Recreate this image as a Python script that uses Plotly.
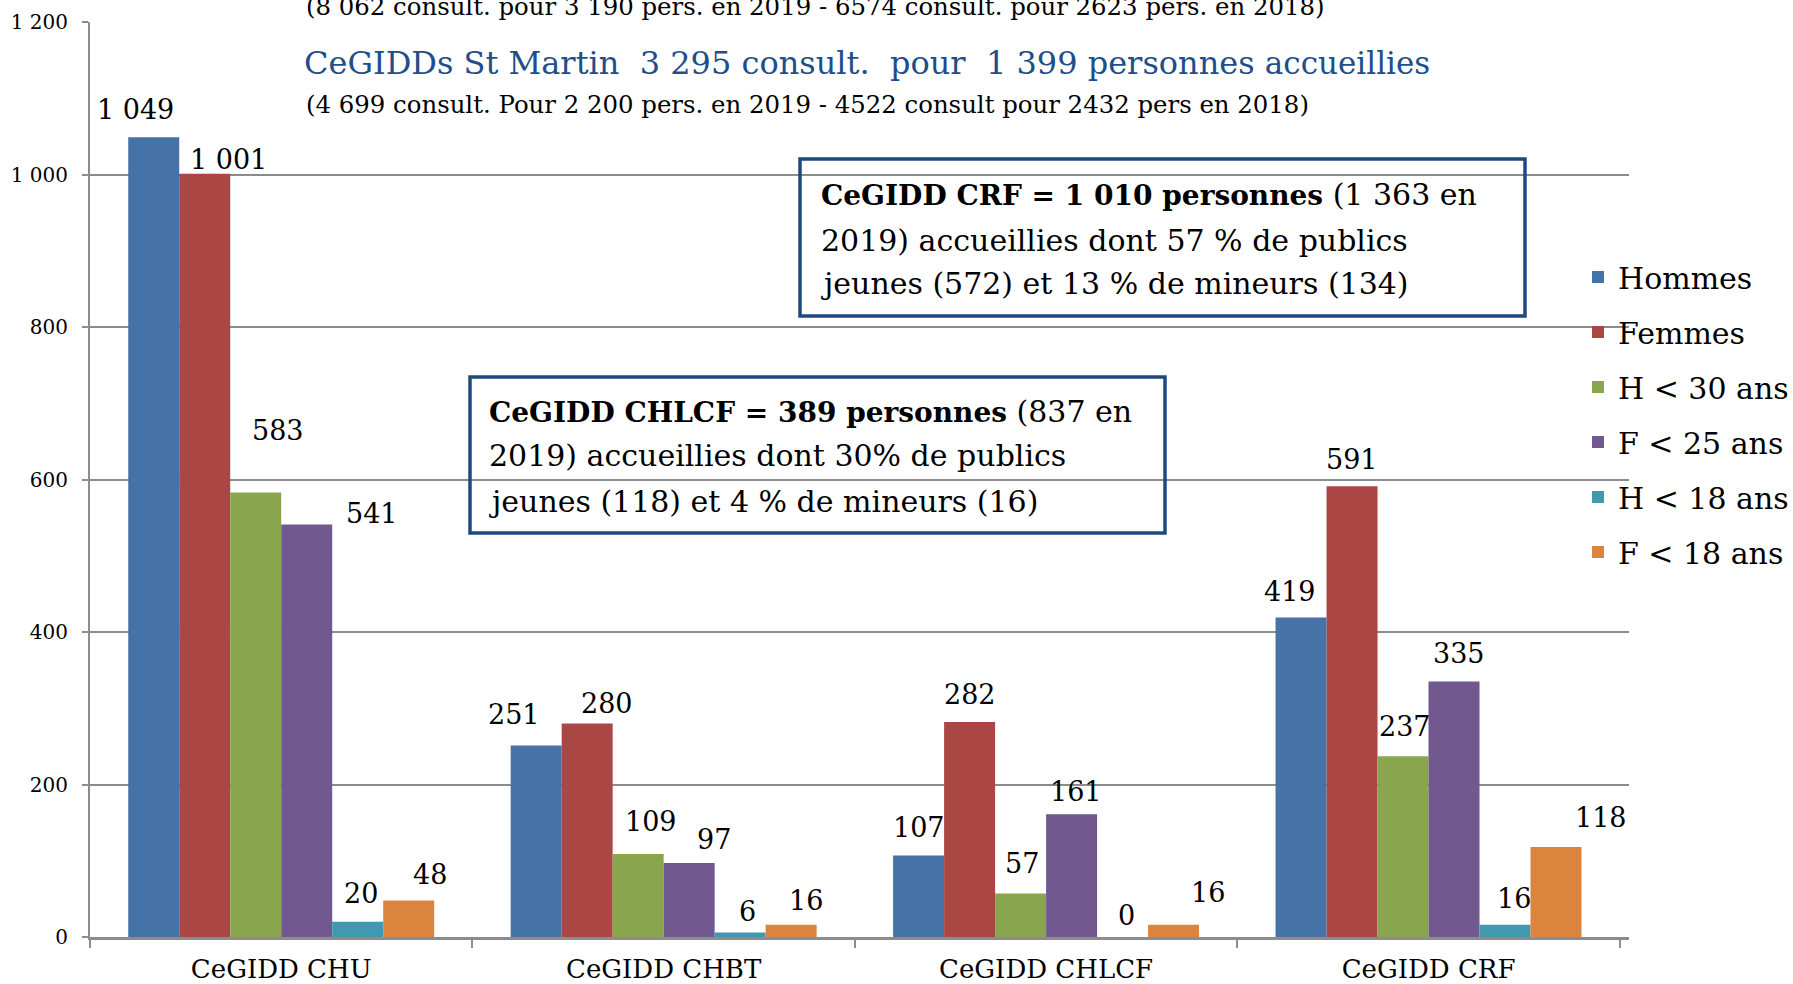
import plotly.graph_objects as go

# ---------------- data ----------------
categories = ["CeGIDD CHU", "CeGIDD CHBT", "CeGIDD CHLCF", "CeGIDD CRF"]
hommes = [1049, 251, 107, 419]
femmes = [1001, 280, 282, 591]
h_moins_30 = [583, 109, 57, 237]
f_moins_25 = [541, 97, 161, 335]
h_moins_18 = [20, 6, 0, 16]
f_moins_18 = [48, 16, 16, 118]
series_names = ["Hommes", "Femmes", "H < 30 ans", "F < 25 ans", "H < 18 ans", "F < 18 ans"]
series_values = [hommes, femmes, h_moins_30, f_moins_25, h_moins_18, f_moins_18]
y_ticks = [0, 200, 400, 600, 800, 1000, 1200]

title_line0 = "(8 062 consult. pour 3 190 pers. en 2019 - 6574 consult. pour 2623 pers. en 2018)"
title_main = "CeGIDDs St Martin\u00a0\u00a03 295 consult.\u00a0\u00a0pour\u00a0\u00a01 399 personnes"
title_main_small = "accueillies"
title_line2 = "(4 699 consult. Pour 2 200 pers. en 2019 - 4522 consult pour 2432 pers en 2018)"
box_crf_bold = "CeGIDD CRF = 1 010 personnes"
box_crf_lines = [" (1 363 en",
                 "2019) accueillies dont 57 % de publics",
                 "jeunes (572) et 13 % de mineurs (134)"]
box_chlcf_bold = "CeGIDD CHLCF = 389 personnes"
box_chlcf_lines = [" (837 en",
                   "2019) accueillies dont 30% de publics",
                   "jeunes (118) et 4 % de mineurs (16)"]

# ---------------- style ----------------
colors = ["#4572A7", "#AA4643", "#89A54E", "#71588F", "#4198AF", "#DB843D"]
FONT = "DejaVu Serif"
GRID = "#8C8C8C"
BLUE = "#1F4E8A"
W, H = 1793, 984
L, R, T, B = 90, 1793 - 1629, 22, 984 - 937
BARGAP = 0.2
# per-label pixel nudges (series x category), as in the original layout
label_dx = [[-18, -22, 0, -11],
            [24, 20, 0, 0],
            [22, 13, 1, 2],
            [65, 25, 4, 5],
            [3, 7, 4, 9],
            [21, 15, 34, 45]]
label_dy = [[28, 31, 28, 26],
            [14, 20, 27, 27],
            [62, 32, 30, 30],
            [11, 24, 23, 28],
            [28, 21, 22, 26],
            [26, 24, 32, 30]]

pw = W - L - R
ph = H - T - B


def px(x):
    return (x - L) / pw


def py(y):
    return (H - B - y) / ph


fig = go.Figure()
for k, (name, vals) in enumerate(zip(series_names, series_values)):
    fig.add_trace(go.Bar(
        name=name, x=categories, y=vals,
        marker=dict(color=colors[k], line=dict(width=0)),
        legendgroup=name,
    ))

annotations = []
n = len(series_names)
bw = (1 - BARGAP) / n
for k, vals in enumerate(series_values):
    for j, v in enumerate(vals):
        annotations.append(dict(
            x=j + (k - (n - 1) / 2) * bw, y=v, xref="x", yref="y",
            text=f"{v:,}".replace(",", " "), showarrow=False,
            xanchor="center", yanchor="middle",
            xshift=label_dx[k][j], yshift=label_dy[k][j],
            font=dict(family=FONT, size=27, color="black"),
        ))

# titles
annotations.append(dict(x=px(304), y=py(7), xref="paper", yref="paper", text=title_line0,
                        showarrow=False, xanchor="left", yanchor="middle",
                        font=dict(family=FONT, size=24.4, color="black")))
annotations.append(dict(x=px(302), y=py(63), xref="paper", yref="paper",
                        text=title_main + "\u00a0<span style='font-size:31px'>" + title_main_small + "</span>",
                        showarrow=False, xanchor="left", yanchor="middle",
                        font=dict(family=FONT, size=32, color=BLUE)))
annotations.append(dict(x=px(304), y=py(104), xref="paper", yref="paper", text=title_line2,
                        showarrow=False, xanchor="left", yanchor="middle",
                        font=dict(family=FONT, size=24.4, color="black")))

# boxed texts
for bold, lines, x0, ys in [(box_crf_bold, box_crf_lines, 819, [194, 240, 283]),
                            (box_chlcf_bold, box_chlcf_lines, 487, [411, 456, 501])]:
    for i, (t, yy) in enumerate(zip(lines, ys)):
        if i == 0:
            t = "<b><span style='font-size:28px'>" + bold + "</span></b>" + t
        annotations.append(dict(x=px(x0), y=py(yy), xref="paper", yref="paper", text=t,
                                showarrow=False, xanchor="left", yanchor="middle",
                                font=dict(family=FONT, size=30, color="black")))

shapes = [
    dict(type="rect", xref="paper", yref="paper", x0=px(800), x1=px(1525), y0=py(316), y1=py(159),
         line=dict(color="#1F497D", width=3.5), fillcolor="rgba(0,0,0,0)", layer="above"),
    dict(type="rect", xref="paper", yref="paper", x0=px(470), x1=px(1165), y0=py(533), y1=py(377),
         line=dict(color="#1F497D", width=3.5), fillcolor="rgba(0,0,0,0)", layer="above"),
]

fig.update_layout(
    width=W, height=H,
    margin=dict(l=L, r=R, t=T, b=B, pad=0, autoexpand=False),
    paper_bgcolor="white", plot_bgcolor="white",
    barmode="group", bargap=BARGAP, bargroupgap=0,
    separators=", ",
    font=dict(family=FONT, color="black"),
    showlegend=True,
    legend=dict(x=px(1578), y=py(251), xanchor="left", yanchor="top",
                font=dict(family=FONT, size=30, color="black"),
                tracegroupgap=13, bgcolor="rgba(0,0,0,0)", borderwidth=0),
    annotations=annotations,
    shapes=shapes,
)
fig.update_xaxes(
    type="category", tickson="boundaries", ticks="outside", ticklen=8, tickwidth=2,
    tickcolor=GRID, showline=True, linecolor=GRID, linewidth=3, showgrid=False,
    tickfont=dict(family=FONT, size=26, color="black"), fixedrange=True,
    automargin=False, ticklabelstandoff=7,
)
fig.update_yaxes(
    range=[0, 1200], tickvals=y_ticks, separatethousands=True, ticks="outside", ticklen=6,
    tickwidth=2, tickcolor=GRID, showline=True, linecolor=GRID, linewidth=2,
    showgrid=True, gridcolor=GRID, gridwidth=2, zeroline=False,
    tickfont=dict(family=FONT, size=20, color="black"), ticklabelstandoff=10, fixedrange=True,
    automargin=False,
)

fig.write_html("out.html", config={"displayModeBar": False},
               post_script="document.body.style.margin='0';document.body.style.overflow='hidden';")
